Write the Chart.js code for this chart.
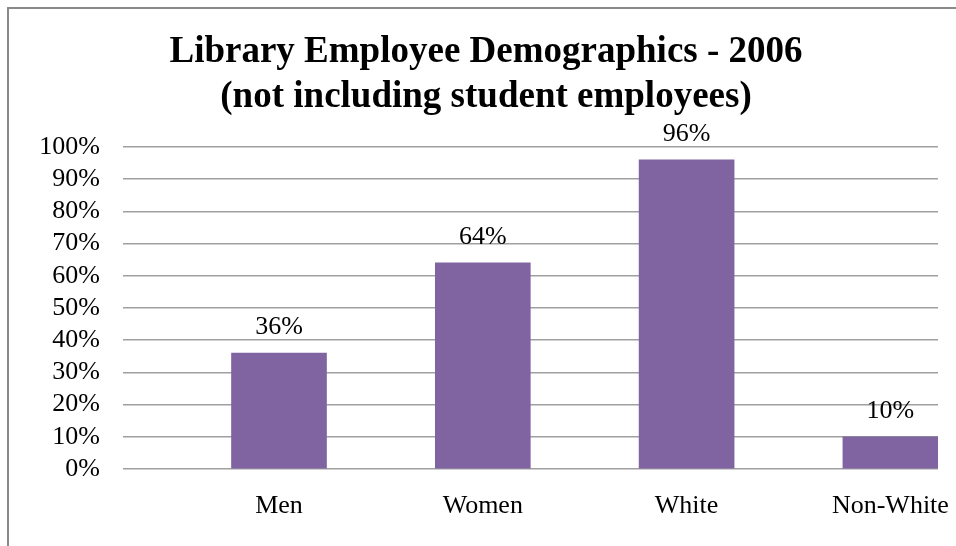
<!DOCTYPE html>
<html>
<head>
<meta charset="utf-8">
<script src="https://cdn.jsdelivr.net/npm/chart.js@4.4.1/dist/chart.umd.min.js"></script>
<style>
  html, body { margin: 0; padding: 0; background: #fff; }
  #wrap { position: relative; width: 956px; height: 546px; overflow: hidden; }
  #frame { position: absolute; left: 7px; top: 7px; right: -10px; bottom: -10px;
           border-top: 2px solid #8a8a8a; border-left: 2px solid #8a8a8a; pointer-events: none; }
  canvas { position: absolute; left: 0; top: 0; }
</style>
</head>
<body>
<div id="wrap">
  <canvas id="c" width="956" height="546"></canvas>
  <div id="frame"></div>
</div>
<script>
const titleLines = ["Library Employee Demographics - 2006", "(not including student employees)"];
const categories = ["Men", "Women", "White", "Non-White"];
const percentValues = [36, 64, 96, 10];
const yTickMax = 100;
const yTickStep = 10;

const FONT = "'Liberation Serif', 'Times New Roman', serif";

const dataLabelPlugin = {
  id: 'dataLabels',
  afterDatasetsDraw(chart) {
    const ctx = chart.ctx;
    const meta = chart.getDatasetMeta(0);
    ctx.save();
    ctx.font = "26px " + FONT;
    ctx.fillStyle = '#000';
    ctx.textAlign = 'center';
    ctx.textBaseline = 'middle';
    meta.data.forEach((bar, i) => {
      ctx.fillText(percentValues[i] + '%', bar.x, bar.y - 26);
    });
    ctx.restore();
  }
};

new Chart(document.getElementById('c'), {
  type: 'bar',
  data: {
    datasets: [{
      data: categories.map((c, i) => ({ x: i, y: percentValues[i] })),
      backgroundColor: '#8064A2',
      borderWidth: 0,
      barThickness: 95
    }]
  },
  plugins: [dataLabelPlugin],
  options: {
    responsive: false,
    animation: false,
    events: [],
    layout: { padding: { left: 34, right: 18, top: 18, bottom: 0 } },
    plugins: {
      legend: { display: false },
      tooltip: { enabled: false },
      title: {
        display: true,
        text: titleLines,
        color: '#000',
        font: { family: FONT, size: 37, weight: 'bold', lineHeight: 1.216 },
        padding: { top: 12, bottom: 27 }
      }
    },
    scales: {
      x: {
        type: 'linear',
        offset: false,
        min: -0.7655,
        max: 3.2336,
        grid: { display: false, drawTicks: false, offset: false },
        border: { display: false },
        afterBuildTicks: (scale) => { scale.ticks = categories.map((c, i) => ({ value: i })); },
        afterFit: (scale) => {
          scale.height = 77;
          scale.paddingLeft = 0;
          scale.paddingRight = 0;
        },
        ticks: {
          autoSkip: false,
          maxRotation: 0,
          padding: 22,
          color: '#000',
          font: { family: FONT, size: 26 },
          callback: (v) => categories[v]
        }
      },
      y: {
        min: 0,
        max: yTickMax,
        grid: { color: '#a0a0a0', lineWidth: 1.5, drawTicks: false },
        border: { display: false },
        afterFit: (scale) => { scale.width = 89; },
        ticks: {
          autoSkip: false,
          stepSize: yTickStep,
          padding: 23,
          color: '#000',
          font: { family: FONT, size: 26 },
          callback: (v) => v + '%'
        }
      }
    }
  }
});
</script>
</body>
</html>
